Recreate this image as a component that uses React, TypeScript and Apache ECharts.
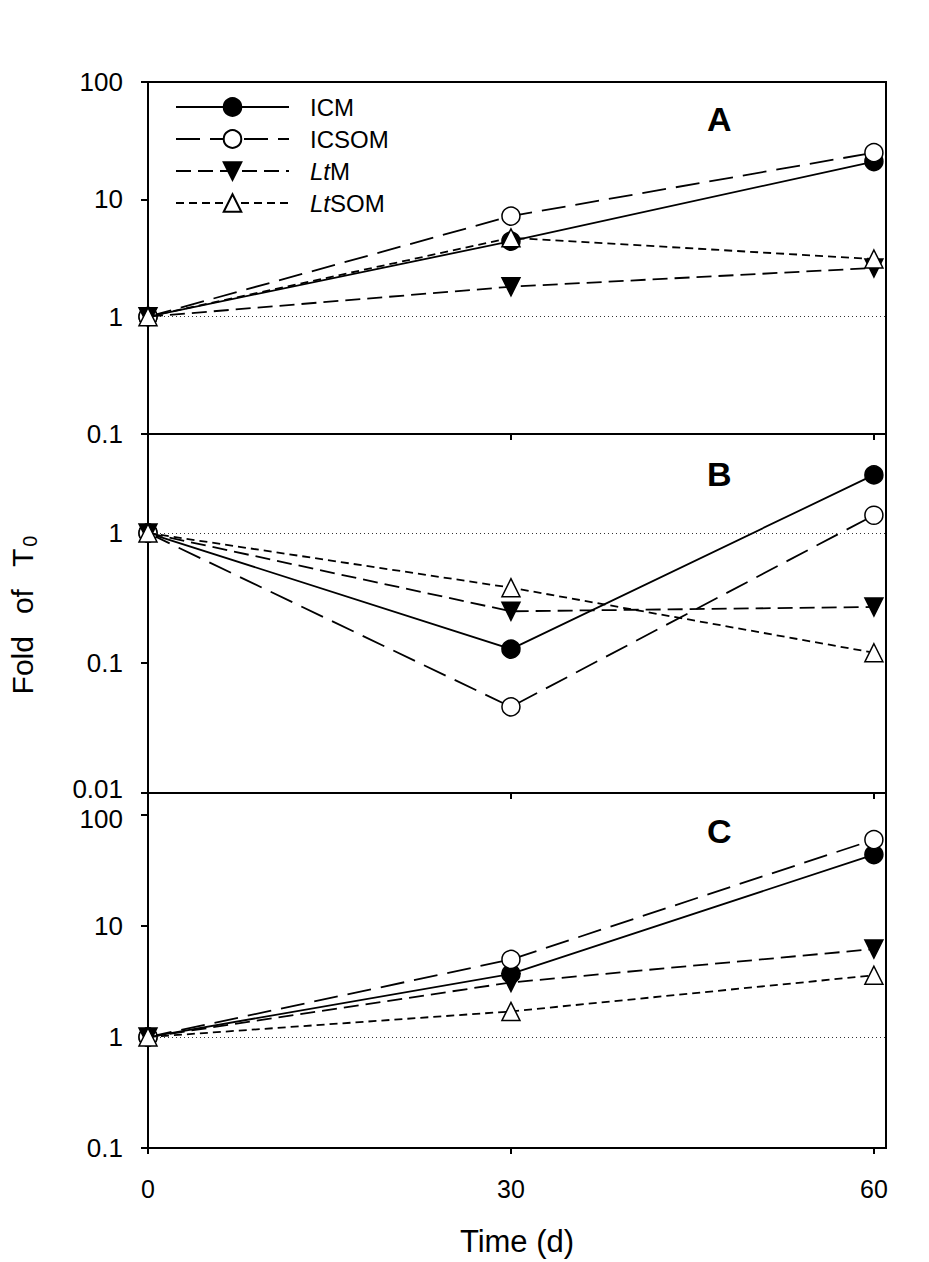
import React, { useEffect, useRef } from "react";
import * as echarts from "echarts";

const days = [0, 30, 60];
const xTicks = ["0", "30", "60"];
const seriesNames = ["ICM", "ICSOM", "LtM", "LtSOM"];

const panelA_ICM = [1, 4.4, 21];
const panelA_ICSOM = [1, 7.2, 25];
const panelA_LtM = [1, 1.8, 2.6];
const panelA_LtSOM = [1, 4.7, 3.1];

const panelB_ICM = [1, 0.128, 2.8];
const panelB_ICSOM = [1, 0.046, 1.37];
const panelB_LtM = [1, 0.25, 0.27];
const panelB_LtSOM = [1, 0.38, 0.12];

const panelC_ICM = [1, 3.7, 44];
const panelC_ICSOM = [1, 5.0, 60];
const panelC_LtM = [1, 3.1, 6.2];
const panelC_LtSOM = [1, 1.7, 3.6];

const panelLabels = ["A", "B", "C"];
const yMins = [0.1, 0.01, 0.1];
const yMaxs = [100, 5.78, 158];

const FONT = "Liberation Sans, Arial, sans-serif";

const styles: Record<string, any> = {
  ICM: { line: "solid", symbol: "circle", fill: "#000", rotate: 0 },
  ICSOM: { line: [24, 10], symbol: "circle", fill: "#fff", rotate: 0 },
  LtM: { line: [15, 7], symbol: "triangle", fill: "#000", rotate: 180 },
  LtSOM: { line: [8, 5], symbol: "triangle", fill: "#fff", rotate: 0 },
};

const panels = [
  [panelA_ICM, panelA_ICSOM, panelA_LtM, panelA_LtSOM],
  [panelB_ICM, panelB_ICSOM, panelB_LtM, panelB_LtSOM],
  [panelC_ICM, panelC_ICSOM, panelC_LtM, panelC_LtSOM],
];

const grids = [
  { top: 82, height: 352 },
  { top: 434, height: 359 },
  { top: 793, height: 355 },
];

export default function App() {
  const ref = useRef<HTMLDivElement>(null);
  useEffect(() => {
    document.body.style.margin = "0";
    if (!ref.current) return;
    const chart = echarts.init(ref.current, undefined, { renderer: "svg" });

    const series: any[] = [];
    panels.forEach((vals, p) => {
      vals.forEach((arr, s) => {
        const name = seriesNames[s];
        const st = styles[name];
        const item: any = {
          name,
          type: "line",
          xAxisIndex: p,
          yAxisIndex: p,
          data: days.map((d, i) => [d, arr[i]]),
          symbol: st.symbol,
          symbolSize: 18,
          symbolRotate: st.rotate,
          showAllSymbol: true,
          lineStyle: { color: "#000", width: 1.8, type: st.line },
          itemStyle: { color: st.fill, borderColor: "#000", borderWidth: 1.5 },
          z: 3 + s,
        };
        if (s === 0) {
          item.markLine = {
            silent: true,
            symbol: "none",
            label: { show: false },
            lineStyle: { color: "#333", width: 1, type: [1, 3] },
            data: [{ yAxis: 1 }],
            z: 1,
          };
        }
        series.push(item);
      });
    });

    const fmtY = (i: number) => (v: number) => {
      const s = String(+Number(v).toPrecision(3));
      if (i === 1 && Math.abs(v - 0.01) < 1e-9) return `{lo|${s}}`;
      if (i === 2 && Math.abs(v - 100) < 1e-6) return `{hi|${s}}`;
      return s;
    };

    const option: any = {
      animation: false,
      backgroundColor: "#fff",
      grid: grids.map((g) => ({
        left: 148,
        right: 43,
        top: g.top,
        height: g.height,
        show: true,
        borderColor: "#000",
        borderWidth: 2,
        backgroundColor: "transparent",
      })),
      xAxis: grids.map((g, i) => ({
        type: "value",
        gridIndex: i,
        min: 0,
        max: 61,
        interval: 30,
        splitLine: { show: false },
        axisLine: { show: true, lineStyle: { color: "#000", width: 2 } },
        axisTick: { show: true, length: 6, lineStyle: { color: "#000", width: 2 } },
        axisLabel: {
          show: i === 2,
          showMaxLabel: false,
          fontSize: 25,
          color: "#000",
          fontFamily: FONT,
          margin: 28,
          formatter: (v: number) => xTicks[days.indexOf(v)] ?? "",
        },
        name: i === 2 ? "Time (d)" : "",
        nameLocation: "middle",
        nameGap: 78,
        nameTextStyle: { fontSize: 31, color: "#000", fontFamily: FONT },
      })),
      yAxis: grids.map((g, i) => ({
        type: "log",
        logBase: 10,
        gridIndex: i,
        min: yMins[i],
        max: yMaxs[i],
        interval: 1,
        splitLine: { show: false },
        minorTick: { show: false },
        axisLine: { show: true, lineStyle: { color: "#000", width: 2 } },
        axisTick: { show: true, length: 7, lineStyle: { color: "#000", width: 2 } },
        axisLabel: {
          showMaxLabel: i === 0,
          fontSize: 26,
          lineHeight: 21,
          color: "#000",
          fontFamily: FONT,
          margin: 25,
          formatter: fmtY(i),
          rich: {
            lo: { fontSize: 26, lineHeight: 21, fontFamily: FONT, color: "#000", padding: [0, 0, 8, 0] },
            hi: { fontSize: 26, lineHeight: 21, fontFamily: FONT, color: "#000", padding: [8, 0, 0, 0] },
          },
        },
      })),
      legend: {
        orient: "vertical",
        left: 170,
        top: 90,
        itemWidth: 113,
        itemHeight: 22,
        itemGap: 8,
        data: seriesNames,
        selectedMode: false,
        textStyle: {
          fontSize: 24,
          color: "#000",
          fontFamily: FONT,
          padding: [0, 0, 0, 16],
          rich: {
            i: { fontSize: 24, fontStyle: "italic", color: "#000", fontFamily: FONT },
            n: { fontSize: 24, color: "#000", fontFamily: FONT },
          },
        },
        formatter: (name: string) =>
          name.startsWith("Lt") ? `{i|Lt}{n|${name.slice(2)}}` : name,
      },
      graphic: [
        ...panelLabels.map((t, i) => ({
          type: "text",
          left: 707,
          top: [102, 457, 814][i],
          style: {
            text: t,
            fontSize: 34,
            fontWeight: "bold",
            fontFamily: FONT,
            fill: "#000",
          },
        })),
        {
          type: "text",
          x: 22,
          y: 615,
          rotation: Math.PI / 2,
          style: {
            text: "{a|Fold}{b|of}{c|T}{s|0}",
            align: "center",
            verticalAlign: "middle",
            fill: "#000",
            rich: {
              a: { fontSize: 30, fontFamily: FONT, padding: [0, 22, 0, 0] },
              b: { fontSize: 30, fontFamily: FONT, padding: [0, 22, 0, 0] },
              c: { fontSize: 30, fontFamily: FONT },
              s: { fontSize: 20, fontFamily: FONT, padding: [16, 0, 0, 2] },
            },
          },
        },
      ],
      series,
    };
    chart.setOption(option);
    return () => chart.dispose();
  }, []);
  return <div ref={ref} style={{ width: 929, height: 1262 }} />;
}
